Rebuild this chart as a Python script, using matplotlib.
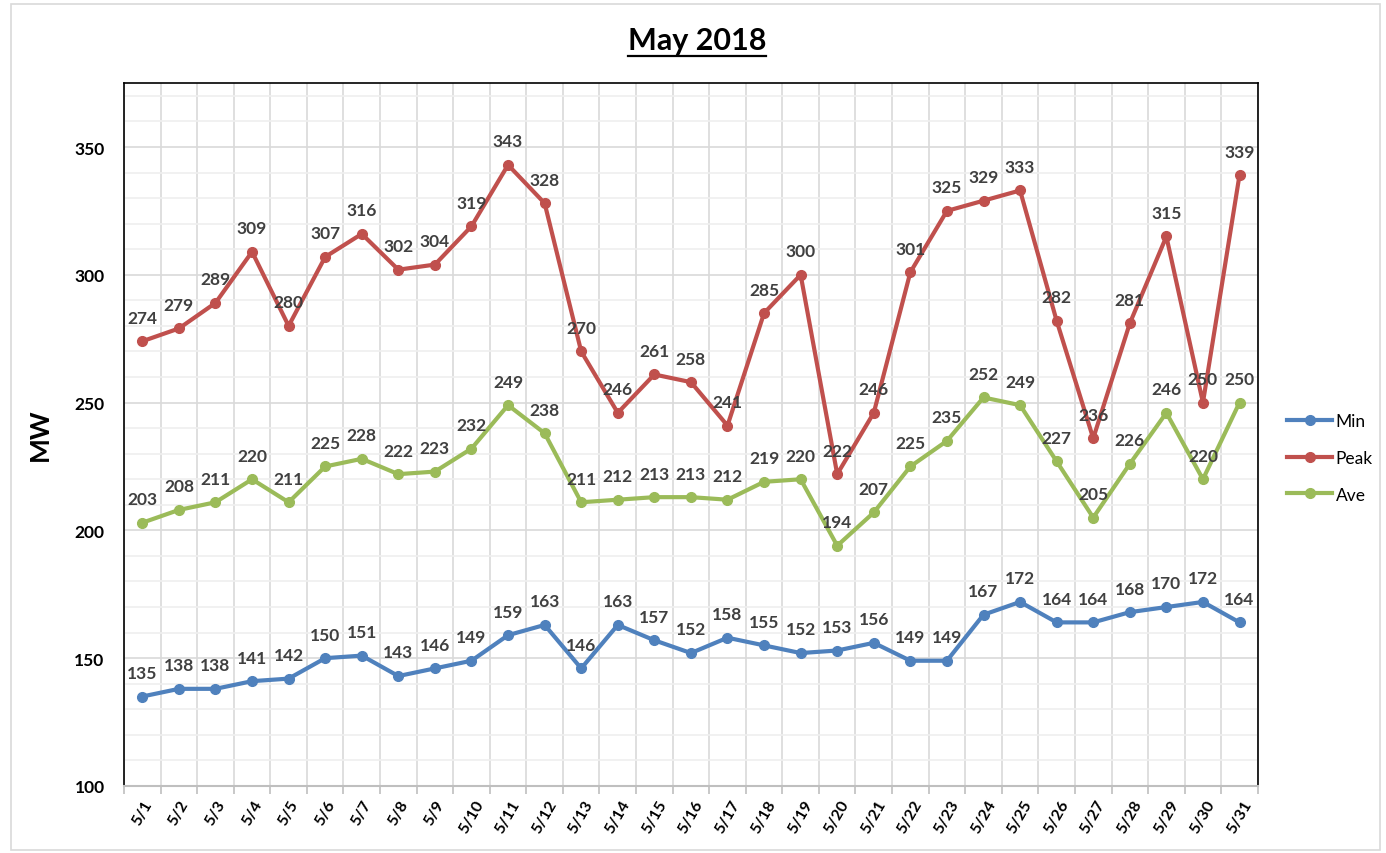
import matplotlib
matplotlib.use('Agg')
import matplotlib.pyplot as plt
from matplotlib.lines import Line2D
from matplotlib.patches import Rectangle
from matplotlib.ticker import MultipleLocator, FixedLocator, NullFormatter

plt.rcParams['font.family'] = ['Lato', 'DejaVu Sans']

days = ['5/%d' % d for d in range(1, 32)]
min_mw = [135, 138, 138, 141, 142, 150, 151, 143, 146, 149, 159, 163, 146, 163, 157, 152,
          158, 155, 152, 153, 156, 149, 149, 167, 172, 164, 164, 168, 170, 172, 164]
peak_mw = [274, 279, 289, 309, 280, 307, 316, 302, 304, 319, 343, 328, 270, 246, 261, 258,
           241, 285, 300, 222, 246, 301, 325, 329, 333, 282, 236, 281, 315, 250, 339]
ave_mw = [203, 208, 211, 220, 211, 225, 228, 222, 223, 232, 249, 238, 211, 212, 213, 213,
          212, 219, 220, 194, 207, 225, 235, 252, 249, 227, 205, 226, 246, 220, 250]

series = [('Min', min_mw, '#4f81bd'), ('Peak', peak_mw, '#c0504d'), ('Ave', ave_mw, '#9bbb59')]

fig = plt.figure(figsize=(13.86, 8.54), dpi=100)
ax = fig.add_axes([0.0895, 0.0785, 0.818, 0.823])

# outer chart border
fig.add_artist(Rectangle((0.008, 0.004), 0.988, 0.99, transform=fig.transFigure,
                         fill=False, edgecolor='#d9d9d9', lw=1.2))

x = list(range(len(days)))
for name, vals, col in series:
    ax.plot(x, vals, color=col, lw=3, marker='o', ms=7, label=name, zorder=3)
    for xi, v in zip(x, vals):
        ax.annotate(str(v), (xi, v), xytext=(0, 17), textcoords='offset points',
                    ha='center', va='center', fontsize=12.5, fontweight='bold',
                    color='#404040', zorder=4)

ax.set_xlim(-0.5, len(days) - 0.5)
ax.set_ylim(100, 375)
ax.yaxis.set_major_locator(MultipleLocator(50))
ax.yaxis.set_minor_locator(MultipleLocator(10))
ax.grid(which='major', axis='y', color='#d9d9d9', lw=1.2)
ax.grid(which='minor', axis='y', color='#efefef', lw=1.2)

ax.set_xticks(x)
ax.set_xticklabels(days, rotation=60, ha='center', fontsize=11.5, fontweight='bold')
ax.tick_params(axis='x', which='major', length=0, pad=8)
ax.xaxis.set_minor_locator(FixedLocator([i - 0.5 for i in range(len(days) + 1)]))
ax.xaxis.set_minor_formatter(NullFormatter())
ax.tick_params(axis='x', which='minor', length=6, color='#bfbfbf', width=1.2)
ax.grid(which='minor', axis='x', color='#d9d9d9', lw=1.2)
ax.set_axisbelow(True)

ax.tick_params(axis='y', which='both', length=0, pad=14)
for lab in ax.get_yticklabels():
    lab.set_fontweight('bold')
    lab.set_fontsize(12.5)

for s in ['left', 'top', 'right']:
    ax.spines[s].set_color('black')
    ax.spines[s].set_linewidth(1.2)
ax.spines['bottom'].set_color('#bfbfbf')
ax.spines['bottom'].set_linewidth(1.5)

fig.text(40 / 1386, 1 - 435 / 854, 'MW', rotation=90, ha='center', va='center',
         fontsize=19, fontweight='bold')

leg = ax.legend(loc='center left', bbox_to_anchor=(1.012, 0.467), frameon=False,
                fontsize=12.5, handlelength=2.6, labelspacing=1.2, handletextpad=0.2)

t = fig.text(0.503, 0.952, 'May 2018', ha='center', va='center', fontsize=22, fontweight='bold')
fig.canvas.draw()
bb = t.get_window_extent().transformed(fig.transFigure.inverted())
fig.add_artist(Line2D([bb.x0, bb.x1], [bb.y0 - 0.002, bb.y0 - 0.002], transform=fig.transFigure,
                      color='black', lw=1.6))

fig.savefig('out.png', dpi=100)
